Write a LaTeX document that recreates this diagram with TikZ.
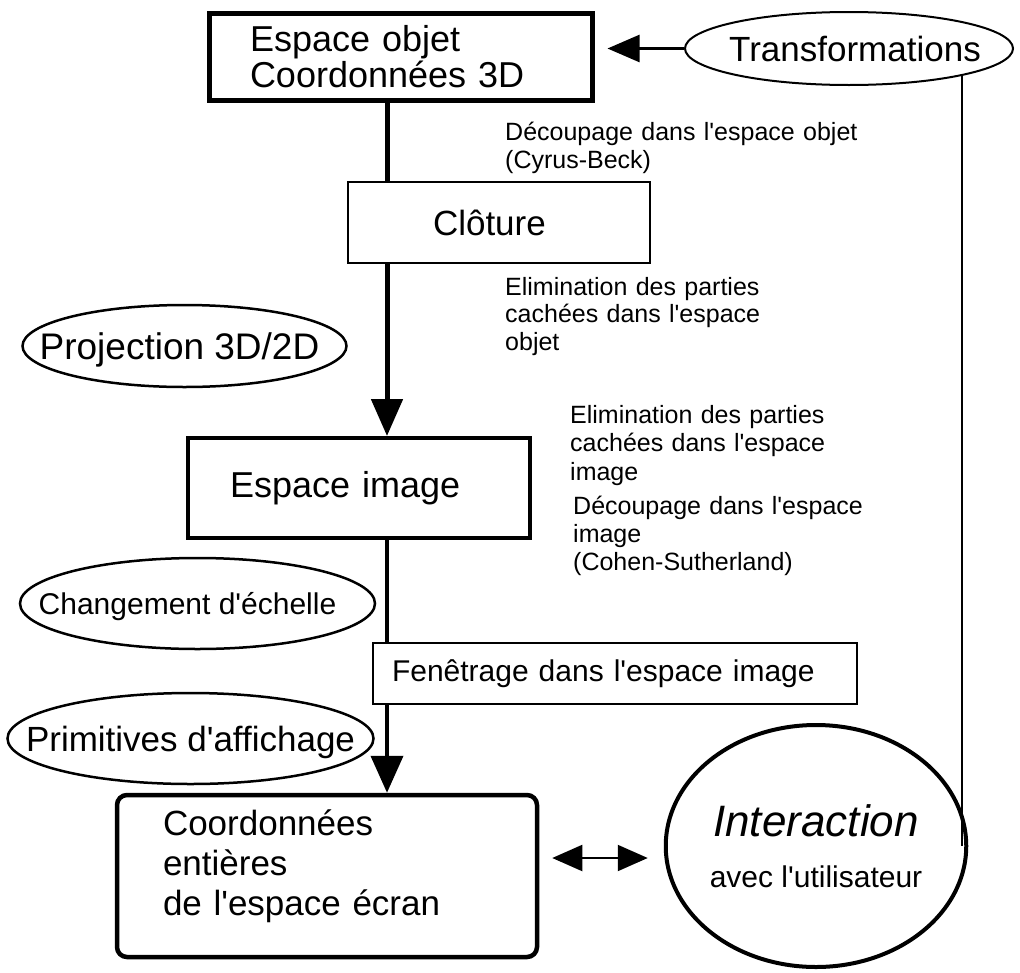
\documentclass[tikz,border=0pt]{standalone}
\usepackage{fontspec}
\setmainfont{Liberation Sans}[Ligatures=TeXOff]
\usetikzlibrary{shapes.geometric,arrows.meta,calc}

% text centred on a node of zero size (optional horizontal offset)
\newcommand\ctext[2][0pt]{\makebox[0pt]{\hspace*{#1}\hspace*{#1}\raisebox{-.36em}[0pt][0pt]{#2}}}
\newcommand\fs[2]{\fontsize{#1}{#2}\selectfont}

\begin{document}
\begin{tikzpicture}[x=1pt,y=-1pt,
  box/.style={draw, rectangle, inner ysep=0pt, align=left},
  oval/.style={draw, ellipse, inner sep=0pt, line width=2.5pt},
  note/.style={anchor=base west, inner sep=0pt, align=left, text width=360pt, font=\fs{25}{28}},
  bigtip/.style={-{Triangle[length=37pt,width=31pt]}},
]
\useasboundingbox (0,0) rectangle (1020,972);

% pipeline boxes
\node[box, line width=5pt, minimum width=383pt, minimum height=87pt,
      inner xsep=41pt, text width=301pt, font=\fs{36}{36}] (B1) at (400.5,56.5)
      {Espace objet\\Coordonnées 3D};
\node[box, line width=2pt, minimum width=302pt, minimum height=81pt,
      inner xsep=85pt, text width=132pt, font=\fs{35}{40}] (C) at (499,222.5) {Clôture};
\node[box, line width=4pt, minimum width=342pt, minimum height=100pt,
      inner xsep=42pt, text width=258pt, font=\fs{36}{40}] (B2) at (359,488) {Espace image};
\node[box, line width=2pt, minimum width=484pt, minimum height=61pt,
      inner xsep=19pt, text width=446pt, font=\fs{30}{34}] (F) at (615,673.5)
      {Fenêtrage dans l'espace image};
\node[box, line width=4.5pt, rounded corners=10pt, minimum width=420pt, minimum height=162pt,
      inner xsep=46pt, text width=328pt, font=\fs{35}{40}] (B4) at (327,876)
      {Coordonnées\\entières\\de l'espace écran\\[-14pt]\mbox{}};

% side operations
\node[oval, line width=2pt, minimum width=328pt, minimum height=73pt, font=\fs{35}{35}]
      (T) at (849,48.5) {\ctext[6pt]{Transformations}};
\node[oval, minimum width=324pt, minimum height=82pt, font=\fs{37}{37}]
      (P) at (184.5,346) {\ctext[-5pt]{Projection 3D/2D}};
\node[oval, minimum width=355pt, minimum height=91pt, font=\fs{30}{30}]
      (Ch) at (197.5,603.5) {\ctext[-10pt]{Changement d'échelle}};
\node[oval, minimum width=366pt, minimum height=91pt, font=\fs{35}{35}]
      (Pr) at (190.5,738.5) {\ctext{Primitives d'affichage}};
\node[oval, line width=4pt, minimum width=300pt, minimum height=242pt, align=center,
      font=\fs{30}{51}] (I) at (816,846)
      {{\fs{44}{51}\itshape Interaction}\\avec l'utilisateur};

% annotations
\node[note] (n1) at (505,140) {Découpage dans l'espace objet\\(Cyrus-Beck)};
\node[note, font=\fs{25}{27.5}] (n2) at (505,295)
      {Elimination des parties\\cachées dans l'espace\\objet};
\node[note, font=\fs{25}{28.5}] (n3) at (570,423)
      {Elimination des parties\\cachées dans l'espace\\image};
\node[note] (n4) at (573,514) {Découpage dans l'espace\\image\\(Cohen-Sutherland)};

% main vertical flow
\coordinate (sp) at (387,0);
\draw[line width=5pt] (B1.south -| sp) -- (C.north -| sp);
\draw[line width=5pt, bigtip] (C.south -| sp) -- (B2.north -| sp);
\draw[line width=4pt] (B2.south -| sp) -- (F.north -| sp);
\draw[line width=4pt, -{Triangle[length=37pt,width=32pt]}] (F.south -| sp) -- (B4.north -| sp);

% transformations feed
\draw[line width=2.5pt, -{Triangle[length=32pt,width=27pt]}, shorten >=13pt]
      (T.west) -- (T.west -| B1.east);
\coordinate (ts) at (962,75);
\draw[line width=2pt] (ts) -- (ts |- I.east);

% user interaction
\draw[line width=2pt, {Triangle[length=30pt,width=26pt]}-{Triangle[length=30pt,width=26pt]}]
      ($(B4.east)+(13,-18)$) -- ($(I.west)+(-16,12)$);
\end{tikzpicture}
\end{document}
